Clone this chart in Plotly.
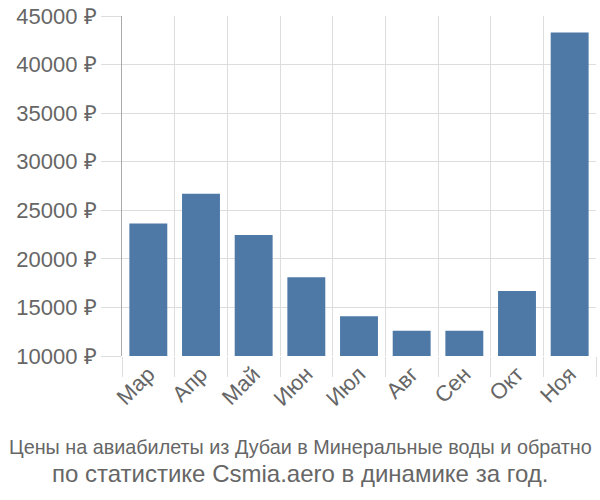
import plotly.graph_objects as go

months = ["Мар", "Апр", "Май", "Июн", "Июл", "Авг", "Сен", "Окт", "Ноя"]
prices = [23640, 26700, 22450, 18100, 14080, 12590, 12600, 16700, 43300]
y_ticks = [10000, 15000, 20000, 25000, 30000, 35000, 40000, 45000]
y_labels = [f"{v} ₽" for v in y_ticks]
title_line1 = "Цены на авиабилеты из Дубаи в Минеральные воды и обратно"
title_line2 = "по статистике Csmia.aero в динамике за год."

L, R, T, B = 122, 4, 14, 144
W, H = 600, 500

fig = go.Figure(go.Bar(
    x=months, y=prices,
    marker=dict(color="#4e79a7", line=dict(width=0)),
    width=0.72,
))

fig.update_layout(
    width=W, height=H,
    margin=dict(l=L, r=R, t=T, b=B),
    plot_bgcolor="white", paper_bgcolor="white",
    showlegend=False,
    font=dict(family="Liberation Sans, Arial", color="#666666"),
    xaxis=dict(
        type="category", tickson="boundaries",
        showgrid=True, gridcolor="#dddddd", gridwidth=1,
        ticks="outside", ticklen=20, tickcolor="#dddddd",
        tickangle=-45, tickfont=dict(size=22, color="#666666"),
        showline=False,
    ),
    yaxis=dict(
        range=[10000, 45000], tickvals=y_ticks, ticktext=y_labels,
        showgrid=True, gridcolor="#dddddd", gridwidth=1,
        ticks="outside", ticklen=20, tickcolor="#dddddd",
        tickfont=dict(size=22, color="#666666"),
        showline=True, linecolor="#aaaaaa", linewidth=1,
        zeroline=False,
    ),
)

xc = (300 - L) / (W - L - R)
fig.add_annotation(text=title_line1, xref="paper", yref="paper", x=xc, y=0,
                   xanchor="center", yanchor="middle", showarrow=False,
                   yshift=-(447 - (H - B)),
                   font=dict(size=19.8, color="#666666"))
fig.add_annotation(text=title_line2, xref="paper", yref="paper", x=xc, y=0,
                   xanchor="center", yanchor="middle", showarrow=False,
                   yshift=-(473 - (H - B)),
                   font=dict(size=24, color="#666666"))

fig.write_html("out.html")
